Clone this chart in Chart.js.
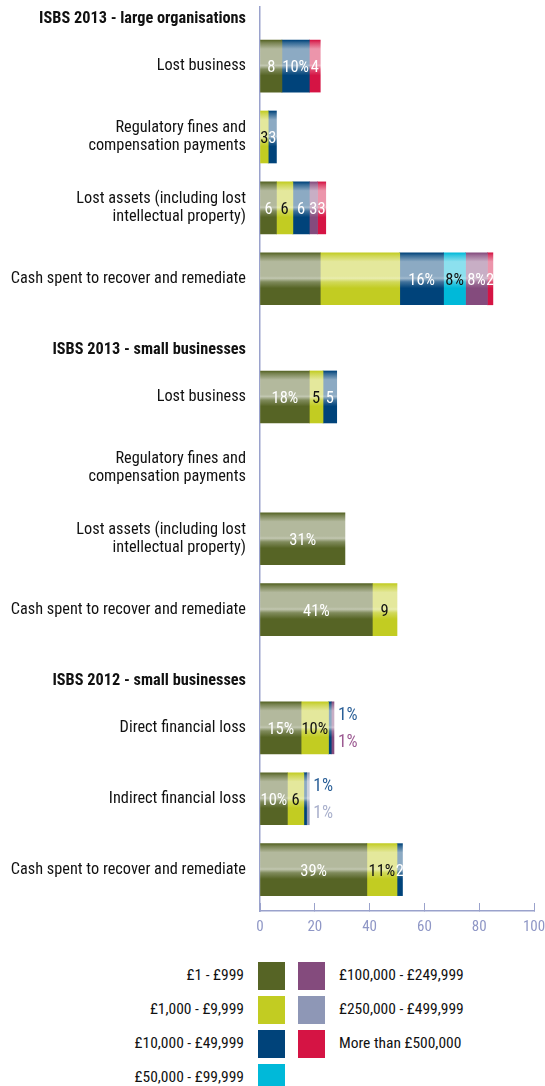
<!DOCTYPE html>
<html>
<head>
<meta charset="utf-8">
<script src="https://cdn.jsdelivr.net/npm/chart.js@4.4.0/dist/chart.umd.min.js"></script>
<style>
  body { margin: 0; background: #fff; width: 545px; height: 1086px; overflow: hidden; position: relative;
         font-family: "Roboto Condensed", "Open Sans", sans-serif; }
  #chart { position: absolute; left: 0; top: 0; }
  #legend { position: absolute; left: 0; top: 962px; width: 545px; }
  .lab { position: absolute; height: 24px; line-height: 24px; font-size: 15.5px; color: #111; white-space: nowrap; }
  .sw { position: absolute; width: 27px; height: 28px; }
</style>
</head>
<body>
<canvas id="chart" width="545" height="950"></canvas>
<div id="legend"></div>
<script>
var FONT = '"Roboto Condensed", "Open Sans", sans-serif';

// rows of the chart, top to bottom (group headings included)
var rows = [
  'ISBS 2013 - large organisations',
  'Lost business',
  ['Regulatory fines and', 'compensation payments'],
  ['Lost assets (including lost', 'intellectual property)'],
  'Cash spent to recover and remediate',
  'ISBS 2013 - small businesses',
  'Lost business',
  ['Regulatory fines and', 'compensation payments'],
  ['Lost assets (including lost', 'intellectual property)'],
  'Cash spent to recover and remediate',
  'ISBS 2012 - small businesses',
  'Direct financial loss',
  'Indirect financial loss',
  'Cash spent to recover and remediate'
];
var isHeading = [true, false, false, false, false, true, false, false, false, false, true, false, false, false];

var bands = ['£1 - £999', '£1,000 - £9,999', '£10,000 - £49,999', '£50,000 - £99,999',
             '£100,000 - £249,999', '£250,000 - £499,999', 'More than £500,000'];
var bandColors = ['#566425', '#c2cc22', '#00437a', '#00b9d9', '#844b7d', '#8e97b6', '#d51444'];
var darkText = [false, true, false, true, false, false, false];

// values (% of respondents) per band, one entry per row
var under1k   = [null, 8, 0, 6, 22, null, 18, 0, 31, 41, null, 15, 10, 39];
var k1to10    = [null, 0, 3, 6, 29, null, 5, 0, 0, 9, null, 10, 6, 11];
var k10to50   = [null, 10, 3, 6, 16, null, 5, 0, 0, 0, null, 1, 1, 2];
var k50to100  = [null, 0, 0, 0, 8, null, 0, 0, 0, 0, null, 0, 0, 0];
var k100to250 = [null, 0, 0, 3, 8, null, 0, 0, 0, 0, null, 1, 0, 0];
var k250to500 = [null, 0, 0, 0, 0, null, 0, 0, 0, 0, null, 0, 1, 0];
var over500k  = [null, 4, 0, 3, 2, null, 0, 0, 0, 0, null, 0, 0, 0];

// text printed on each segment, as in the original
var under1kText   = ['', '8', '', '6', '', '', '18%', '', '31%', '41%', '', '15%', '10%', '39%'];
var k1to10Text    = ['', '', '3', '6', '', '', '5', '', '', '9', '', '10%', '6', '11%'];
var k10to50Text   = ['', '10%', '3', '6', '16%', '', '5', '', '', '', '', '1%', '1%', '2'];
var k50to100Text  = ['', '', '', '', '8%', '', '', '', '', '', '', '', '', ''];
var k100to250Text = ['', '', '', '3', '8%', '', '', '', '', '', '', '1%', '', ''];
var k250to500Text = ['', '', '', '', '', '', '', '', '', '', '', '', '1%', ''];
var over500kText  = ['', '4', '', '3', '2', '', '', '', '', '', '', '', '', ''];

var values = [under1k, k1to10, k10to50, k50to100, k100to250, k250to500, over500k];
var texts = [under1kText, k1to10Text, k10to50Text, k50to100Text, k100to250Text, k250to500Text, over500kText];

// row positions on the y scale: headings sit closer to their first row
var slotOf = [];
var s = 0;
rows.forEach(function (r, i) {
  if (i > 0) s += isHeading[i] ? 3 : (isHeading[i - 1] ? 2 : 3);
  slotOf.push(s);
});
var lastSlot = s;

function mix(hex, amt) {
  var n = parseInt(hex.slice(1), 16);
  var r = n >> 16, g = (n >> 8) & 255, b = n & 255;
  return 'rgb(' + Math.round(r + (255 - r) * amt) + ',' + Math.round(g + (255 - g) * amt) + ',' + Math.round(b + (255 - b) * amt) + ')';
}

function glossy(d) {
  return function (c) {
    var base = bandColors[d];
    if (c.type !== 'data' || !c.chart.scales.y || !c.raw) return base;
    var y = c.chart.scales.y.getPixelForValue(c.raw.y);
    if (!isFinite(y)) return base;
    var g = c.chart.ctx.createLinearGradient(0, y - 26, 0, y + 26);
    g.addColorStop(0, base);
    g.addColorStop(0.05, mix(base, 0.2));
    g.addColorStop(0.17, mix(base, 0.55));
    g.addColorStop(0.45, mix(base, 0.55));
    g.addColorStop(0.49, mix(base, 0.64));
    g.addColorStop(0.56, mix(base, 0.25));
    g.addColorStop(0.68, base);
    g.addColorStop(1, base);
    return g;
  };
}

var datasets = values.map(function (vals, d) {
  return {
    label: bands[d],
    data: slotOf.map(function (sl, i) { return { x: vals[i] ? vals[i] : null, y: sl }; }),
    backgroundColor: glossy(d),
    barThickness: 52,
    borderWidth: 0
  };
});

var barText = {
  id: 'barText',
  afterDatasetsDraw: function (chart) {
    var ctx = chart.ctx;
    ctx.save();
    ctx.textBaseline = 'middle';
    rows.forEach(function (r, row) {
      var end = chart.scales.x.getPixelForValue(0);
      chart.data.datasets.forEach(function (ds, d) {
        var el = chart.getDatasetMeta(d).data[row];
        if (ds.data[row].x != null && el.x > end) end = el.x;
      });
      var outside = 0;
      chart.data.datasets.forEach(function (ds, d) {
        var t = texts[d][row];
        if (!t || ds.data[row].x == null) return;
        var el = chart.getDatasetMeta(d).data[row];
        var w = el.x - el.base;
        if (w < 4) {
          ctx.font = '17.5px ' + FONT;
          ctx.textAlign = 'left';
          ctx.fillStyle = d === 2 ? '#2a5f97' : (d === 5 ? '#a9b0cc' : '#9c5a92');
          ctx.fillText(t, end + 4, el.y + (outside === 0 ? -12.5 : 15));
          outside++;
        } else {
          ctx.font = '16.5px ' + FONT;
          ctx.textAlign = 'center';
          ctx.fillStyle = darkText[d] ? '#111' : '#fff';
          ctx.fillText(t, (el.x + el.base) / 2, el.y + 2);
        }
      });
    });
    ctx.restore();
  }
};

// legend: two columns, left one with labels before the swatch
var legend = document.getElementById('legend');
bands.forEach(function (b, i) {
  var col = i < 4 ? 0 : 1;
  var row = col === 0 ? i : i - 4;
  var sw = document.createElement('div');
  sw.className = 'sw';
  sw.style.background = bandColors[i];
  sw.style.top = (row * 34) + 'px';
  sw.style.left = (col === 0 ? 258 : 298) + 'px';
  var lab = document.createElement('div');
  lab.className = 'lab';
  lab.textContent = b;
  lab.style.top = (row * 34 + 1) + 'px';
  if (col === 0) { lab.style.right = (545 - 244) + 'px'; lab.style.textAlign = 'right'; }
  else { lab.style.left = '339px'; }
  legend.appendChild(sw);
  legend.appendChild(lab);
});

new Chart(document.getElementById('chart').getContext('2d'), {
  type: 'bar',
  data: { datasets: datasets },
  options: {
    indexAxis: 'y',
    responsive: false,
    animation: false,
    layout: { padding: { top: 7, right: 11, left: 0, bottom: 0 } },
    plugins: { legend: { display: false }, tooltip: { enabled: false } },
    scales: {
      x: {
        stacked: true, min: 0, max: 100,
        ticks: { stepSize: 20, color: '#8f97c6', font: { family: FONT, size: 15 }, padding: 15 },
        grid: { drawOnChartArea: false, drawTicks: true, tickLength: -8, color: '#9aa2cc' },
        border: { color: '#9aa2cc', width: 1.5 },
        afterFit: function (sc) { sc.height = 39; sc.paddingLeft = 0; sc.paddingRight = 0; }
      },
      y: {
        type: 'linear', reverse: true, stacked: true, offset: false,
        min: -0.5, max: lastSlot + 1.75,
        afterBuildTicks: function (sc) { sc.ticks = slotOf.map(function (v) { return { value: v }; }); },
        grid: { display: false, drawTicks: false, offset: false },
        border: { display: true, color: '#9aa2cc', width: 1.5 },
        ticks: {
          autoSkip: false, padding: 14, color: '#111',
          callback: function (v) { return rows[slotOf.indexOf(v)]; },
          font: function (c) {
            var r = c.tick ? slotOf.indexOf(c.tick.value) : -1;
            return { family: FONT, size: 16.3, lineHeight: 1.12, weight: (r >= 0 && isHeading[r]) ? 'bold' : 'normal' };
          }
        },
        afterFit: function (sc) { sc.width = 260; sc.paddingTop = 0; sc.paddingBottom = 0; }
      }
    }
  },
  plugins: [barText]
});
</script>
</body>
</html>
